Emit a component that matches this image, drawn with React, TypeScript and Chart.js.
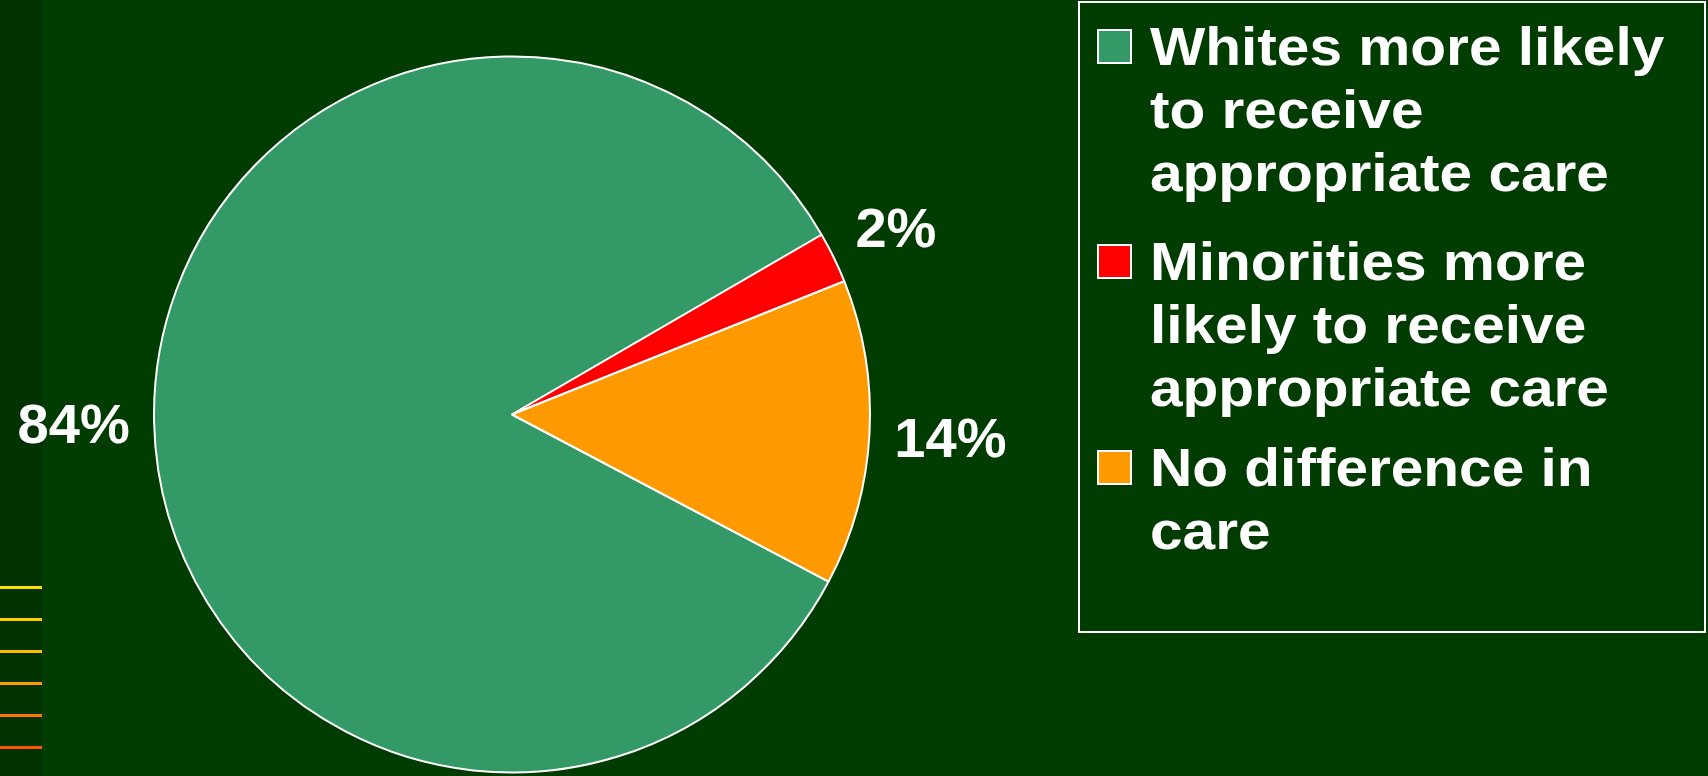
import React, { useEffect, useRef } from "react";
import { Chart, registerables } from "chart.js";

Chart.register(...registerables);

// ---- data ----
const legendLines: string[][] = [
  ["Whites more likely", "to receive", "appropriate care"],
  ["Minorities more", "likely to receive", "appropriate care"],
  ["No difference in", "care"],
];
const categories: string[] = legendLines.map((l) => l.join(" "));
const values: number[] = [83.9, 2.3, 13.8];
const sliceColors: string[] = ["#339966", "#ff0000", "#ff9900"];
const stripeColors: string[] = ["#ffdd00", "#ffcc00", "#ffbb00", "#ff9900", "#ff7700", "#ff5500"];

const BG = "#003b00";
const FONT = "'Liberation Sans', Arial, Helvetica, sans-serif";

const labelPlugin = {
  id: "pctLabels",
  afterDatasetsDraw(chart: any) {
    const ctx = chart.ctx;
    const meta = chart.getDatasetMeta(0);
    const data = chart.data.datasets[0].data as number[];
    ctx.save();
    ctx.fillStyle = "#ffffff";
    ctx.font = `bold 56px ${FONT}`;
    ctx.textAlign = "center";
    ctx.textBaseline = "alphabetic";
    const capH = 40;
    meta.data.forEach((arc: any, i: number) => {
      const p = arc.getProps(["x", "y", "startAngle", "endAngle", "outerRadius"], true);
      const mid = (p.startAngle + p.endAngle) / 2;
      const text = `${Math.round(data[i])}%`;
      const w = ctx.measureText(text).width;
      const ext = Math.abs(Math.cos(mid)) * w / 2 + Math.abs(Math.sin(mid)) * capH / 2;
      const r = p.outerRadius + 1 + 23 + ext;
      const tx = p.x + Math.cos(mid) * r;
      const ty = p.y + Math.sin(mid) * r + capH / 2;
      ctx.fillText(text, tx, ty);
    });
    ctx.restore();
  },
};

export default function App() {
  const canvasRef = useRef<HTMLCanvasElement | null>(null);

  useEffect(() => {
    document.body.style.margin = "0";
    document.body.style.background = BG;
    const canvas = canvasRef.current;
    if (!canvas) return;
    const chart = new Chart(canvas, {
      type: "pie",
      data: {
        labels: categories,
        datasets: [
          {
            data: values,
            backgroundColor: sliceColors,
            borderColor: "#ffffff",
            borderWidth: 2,
          },
        ],
      },
      options: {
        responsive: false,
        animation: false,
        devicePixelRatio: 1,
        rotation: 117.82,
        radius: 358,
        layout: { padding: { left: 0, right: 684, top: 53, bottom: 0 } },
        plugins: {
          legend: { display: false },
          tooltip: { enabled: false },
        },
      } as any,
      plugins: [labelPlugin],
    });
    return () => chart.destroy();
  }, []);

  const itemTops = [12, 227, 433];

  return (
    <div
      style={{
        position: "fixed",
        left: 0,
        top: 0,
        width: 1708,
        height: 776,
        background: BG,
        overflow: "hidden",
        fontFamily: FONT,
      }}
    >
      <div style={{ position: "absolute", left: 0, top: 0, width: 42, height: 776, background: "#003300" }} />
      {stripeColors.map((c, i) => (
        <div
          key={i}
          style={{ position: "absolute", left: 0, top: 586 + i * 32, width: 42, height: 3, background: c }}
        />
      ))}
      <canvas ref={canvasRef} width={1708} height={776} style={{ position: "absolute", left: 0, top: 0, width: 1708, height: 776 }} />
      <div
        style={{
          position: "absolute",
          left: 1078,
          top: 1,
          width: 628,
          height: 632,
          border: "2px solid #ffffff",
          boxSizing: "border-box",
        }}
      >
        {legendLines.map((lines, i) => (
          <div
            key={i}
            style={{
              position: "absolute",
              left: 0,
              top: itemTops[i],
              display: "flex",
              alignItems: "flex-start",
            }}
          >
            <div
              style={{
                marginLeft: 17,
                marginTop: 14,
                width: 35,
                height: 35,
                boxSizing: "border-box",
                background: sliceColors[i],
                border: "2px solid #ffffff",
                flex: "none",
              }}
            />
            <div
              style={{
                marginLeft: 18,
                color: "#ffffff",
                fontWeight: "bold",
                fontSize: 53,
                lineHeight: "63px",
                whiteSpace: "nowrap",
                transform: "scaleX(1.105)",
                transformOrigin: "left top",
              }}
            >
              {lines.map((t, j) => (
                <div key={j}>{t}</div>
              ))}
            </div>
          </div>
        ))}
      </div>
    </div>
  );
}
